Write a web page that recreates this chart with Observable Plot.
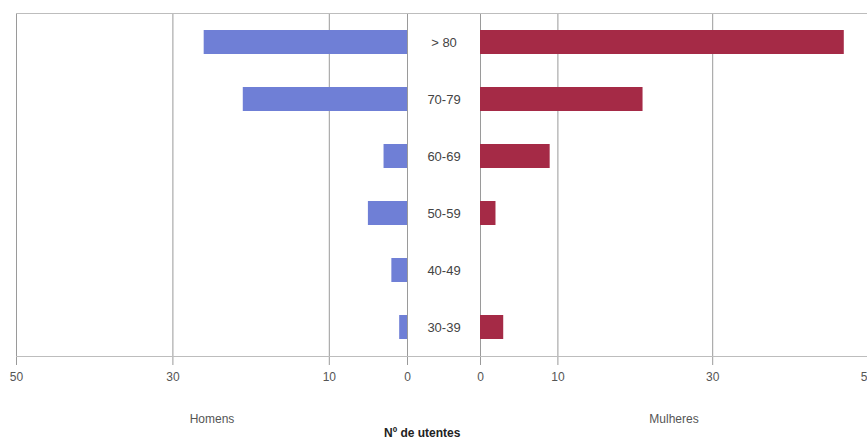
<!DOCTYPE html>
<html>
<head>
<meta charset="utf-8">
<script src="https://cdn.jsdelivr.net/npm/d3@7"></script>
<script src="https://cdn.jsdelivr.net/npm/@observablehq/plot@0.6"></script>
<style>
  html, body { margin: 0; padding: 0; background: #fff; }
  #wrap { position: relative; width: 867px; height: 439px; overflow: hidden; font-family: "Liberation Sans", Arial, sans-serif; }
  #wrap > div.p { position: absolute; top: 0; }
  #title { position: absolute; left: 0; width: 867px; top: 426px; font-weight: bold; font-size: 12px; color: #222; }
  svg { overflow: visible; }
</style>
</head>
<body>
<div id="wrap">
  <div class="p" id="left" style="left:0px"></div>
  <div class="p" id="mid" style="left:407px"></div>
  <div class="p" id="right" style="left:480px"></div>
  <div id="title"><span style="position:absolute; left:384px;">Nº de utentes</span></div>
</div>
<script>
const ageGroups = ["> 80", "70-79", "60-69", "50-59", "40-49", "30-39"];
const homens   = [26, 21, 3, 5, 2, 1];
const mulheres = [47, 21, 9, 2, 0, 3];
const xTicksLeft = [50, 30, 10, 0];
const xTicksRight = [0, 10, 30, 50];
const sideLabels = ["Homens", "Mulheres"];

const menData = ageGroups.map((g, i) => ({group: g, value: homens[i]}));
const womenData = ageGroups.map((g, i) => ({group: g, value: mulheres[i]}));

const H = 414, MT = 13, MB = H - 356;
const font = "Liberation Sans, Arial, sans-serif";
const gridColor = "#9a9a9a";
const lineColor = "#bdbdbd";
const blue = "#6f7fd6";
const red = "#a52a46";
const common = {
  height: H, marginTop: MT, marginBottom: MB,
  style: {background: "transparent", overflow: "visible", fontFamily: font, fontSize: "12px", color: "#555"},
  y: {domain: ageGroups, paddingInner: 0.58, paddingOuter: 0.29, axis: null}
};

const left = Plot.plot({
  ...common,
  width: 407, marginLeft: 16, marginRight: 0,
  x: {domain: [50, 0], axis: null},
  marks: [
    Plot.ruleX(xTicksLeft, {stroke: gridColor, strokeWidth: 1, insetBottom: -9}),
    Plot.frame({anchor: "top", stroke: lineColor}),
    Plot.frame({anchor: "bottom", stroke: lineColor}),
    Plot.axisX({ticks: xTicksLeft, tickSize: 0, tickPadding: 16, fontSize: 12, fill: "#555", label: sideLabels[0], labelAnchor: "center", labelArrow: "none", labelOffset: 66, tickFormat: d => d}),
    Plot.barX(menData, {x: "value", y: "group", fill: blue})
  ]
});

const mid = Plot.plot({
  ...common,
  width: 73, marginLeft: 0, marginRight: 0,
  x: {domain: [0, 1], axis: null},
  marks: [
    Plot.frame({anchor: "top", stroke: lineColor}),
    Plot.frame({anchor: "bottom", stroke: lineColor}),
    Plot.axisY({anchor: "left", tickSize: 0, tickPadding: -36.5, textAnchor: "middle", fontSize: 13, fill: "#444", label: null})
  ]
});

const right = Plot.plot({
  ...common,
  width: 387, marginLeft: 0, marginRight: 0,
  x: {domain: [0, 50], axis: null},
  marks: [
    Plot.ruleX(xTicksRight, {stroke: gridColor, strokeWidth: 1, insetBottom: -9}),
    Plot.frame({anchor: "top", stroke: lineColor}),
    Plot.frame({anchor: "bottom", stroke: lineColor}),
    Plot.axisX({ticks: xTicksRight, tickSize: 0, tickPadding: 16, fontSize: 12, fill: "#555", label: sideLabels[1], labelAnchor: "center", labelArrow: "none", labelOffset: 66, tickFormat: d => d}),
    Plot.barX(womenData, {x: "value", y: "group", fill: red})
  ]
});

document.getElementById("left").appendChild(left);
document.getElementById("mid").appendChild(mid);
document.getElementById("right").appendChild(right);
</script>
</body>
</html>
